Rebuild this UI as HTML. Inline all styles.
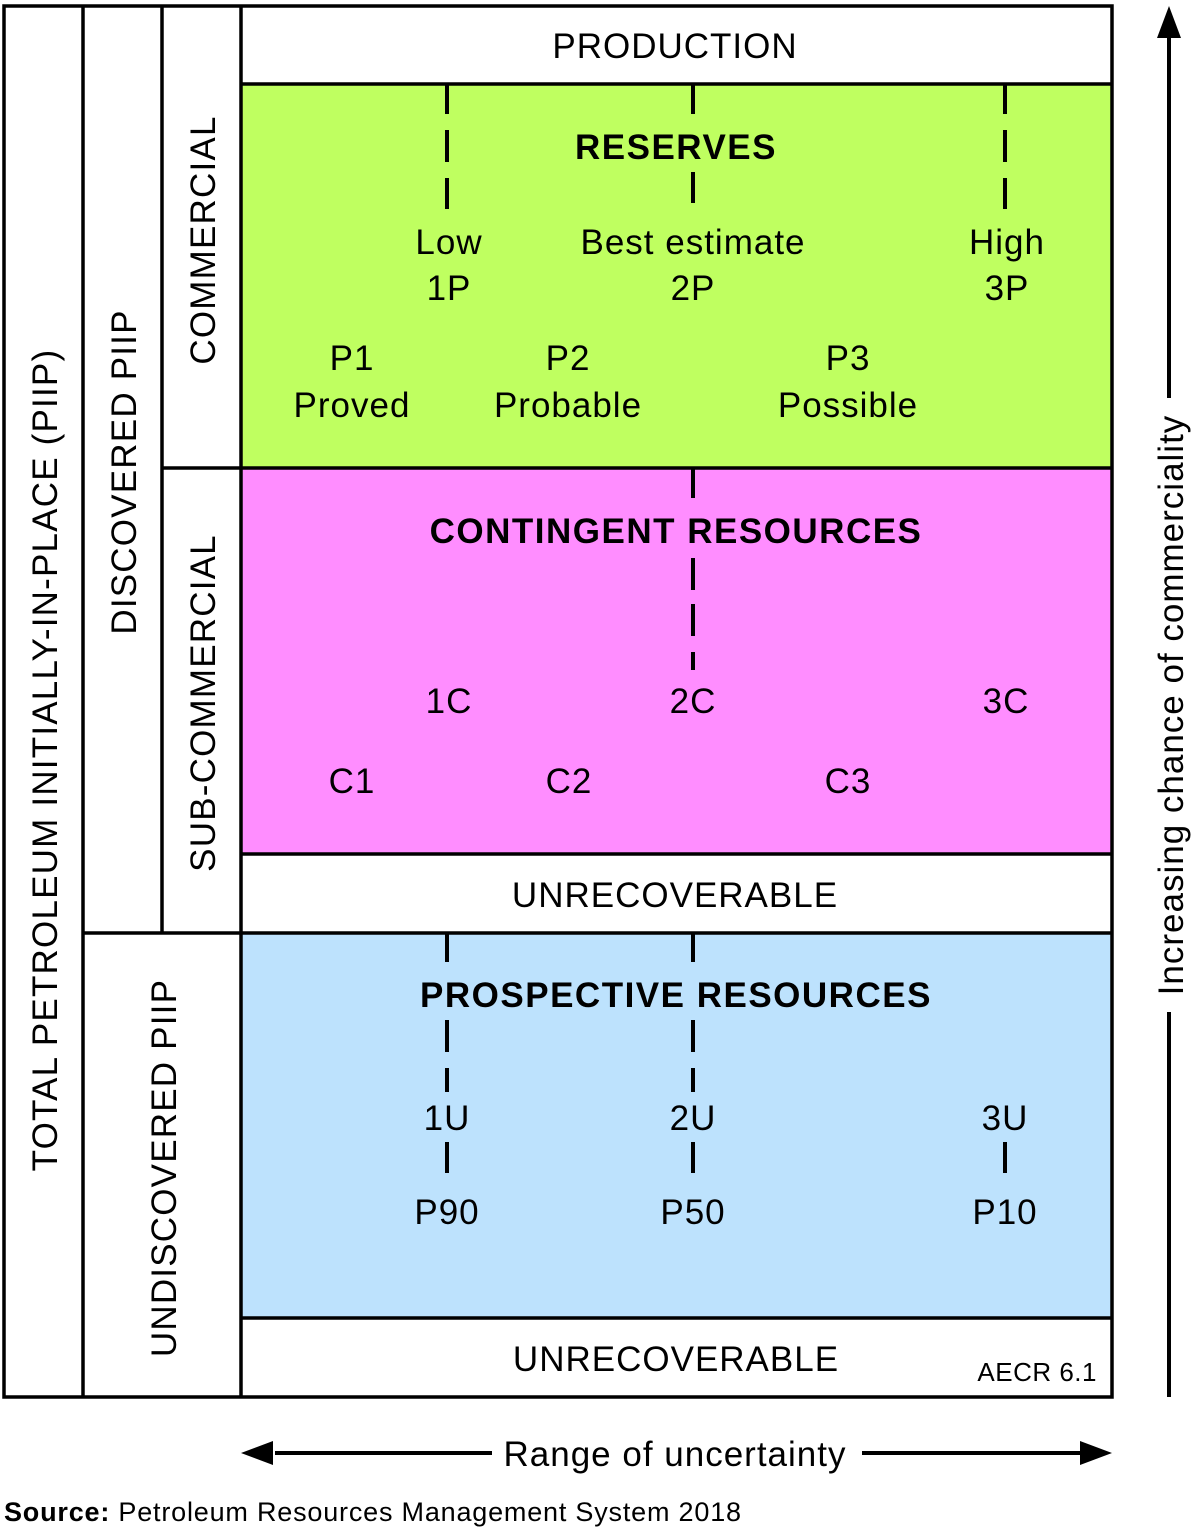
<!DOCTYPE html>
<html><head><meta charset="utf-8"><style>
html,body{margin:0;padding:0;background:#fff;}
svg text{font-family:"Liberation Sans",Arial,sans-serif;fill:#000;}
</style></head><body>
<svg width="1200" height="1529" viewBox="0 0 1200 1529" xmlns="http://www.w3.org/2000/svg">
<rect x="241" y="84" width="871" height="384" fill="#bfff60"/>
<rect x="241" y="468" width="871" height="386" fill="#ff8dff"/>
<rect x="241" y="933" width="871" height="385" fill="#bde2fd"/>
<g stroke="#000" stroke-width="3.5" fill="none">
<rect x="4" y="6" width="1108" height="1391"/>
<line x1="83" y1="6" x2="83" y2="1397"/>
<line x1="162" y1="6" x2="162" y2="933"/>
<line x1="241" y1="6" x2="241" y2="1397"/>
<line x1="241" y1="84" x2="1112" y2="84"/>
<line x1="162" y1="468" x2="1112" y2="468"/>
<line x1="241" y1="854" x2="1112" y2="854"/>
<line x1="83" y1="933" x2="1112" y2="933"/>
<line x1="241" y1="1318" x2="1112" y2="1318"/>
</g>
<g stroke="#000" stroke-width="4">
<path d="M447 84V114M447 130V162M447 178V209"/>
<path d="M693 84V114M693 172V203"/>
<path d="M1005 84V114M1005 130V162M1005 178V209"/>
<path d="M693 468V498M693 558V590M693 604V636M693 652V670"/>
<path d="M447 933V962M447 1020V1052M447 1068V1092M447 1142V1173"/>
<path d="M693 933V962M693 1020V1052M693 1068V1092M693 1142V1173"/>
<path d="M1005 1142V1173"/>
<path d="M1169 36V1397"/>
<path d="M275 1453H1080"/>
</g>
<rect x="1150" y="398" width="40" height="614" fill="#fff"/>
<rect x="492" y="1430" width="370" height="46" fill="#fff"/>
<polygon points="1169,6 1157,38 1181,38" fill="#000"/>
<polygon points="1112,1453 1080,1441 1080,1465" fill="#000"/>
<polygon points="241,1453 273,1441 273,1465" fill="#000"/>
<g font-size="35" text-anchor="middle" letter-spacing="1">
<text x="675" y="58">PRODUCTION</text>
<text x="676" y="159" font-weight="bold" letter-spacing="1.5">RESERVES</text>
<text x="449" y="254">Low</text><text x="449" y="300">1P</text>
<text x="693" y="254">Best estimate</text><text x="693" y="300">2P</text>
<text x="1007" y="254">High</text><text x="1007" y="300">3P</text>
<text x="352" y="370">P1</text><text x="352" y="417">Proved</text>
<text x="568" y="370">P2</text><text x="568" y="417">Probable</text>
<text x="848" y="370">P3</text><text x="848" y="417">Possible</text>
<text x="676" y="543" font-weight="bold" letter-spacing="1.5">CONTINGENT RESOURCES</text>
<text x="449" y="713">1C</text><text x="693" y="713">2C</text><text x="1006" y="713">3C</text>
<text x="352" y="793">C1</text><text x="569" y="793">C2</text><text x="848" y="793">C3</text>
<text x="675" y="907">UNRECOVERABLE</text>
<text x="676" y="1007" font-weight="bold" letter-spacing="1.5">PROSPECTIVE RESOURCES</text>
<text x="447" y="1130">1U</text><text x="693" y="1130">2U</text><text x="1005" y="1130">3U</text>
<text x="447" y="1224">P90</text><text x="693" y="1224">P50</text><text x="1005" y="1224">P10</text>
<text x="676" y="1371">UNRECOVERABLE</text>
<text x="675" y="1466">Range of uncertainty</text>
<text transform="translate(57,760) rotate(-90)" letter-spacing="1.2">TOTAL PETROLEUM INITIALLY-IN-PLACE (PIIP)</text>
<text transform="translate(136,472) rotate(-90)" letter-spacing="1.2">DISCOVERED PIIP</text>
<text transform="translate(176,1168) rotate(-90)" letter-spacing="1.2">UNDISCOVERED PIIP</text>
<text transform="translate(215,240) rotate(-90)" letter-spacing="1.2">COMMERCIAL</text>
<text transform="translate(215,703) rotate(-90)" letter-spacing="1.2">SUB-COMMERCIAL</text>
<text transform="translate(1183,705) rotate(-90)">Increasing chance of commerciality</text>
</g>
<text x="1097" y="1381" font-size="26" text-anchor="end" letter-spacing="0.5">AECR 6.1</text>
<text x="4" y="1521" font-size="27" letter-spacing="0.8"><tspan font-weight="bold">Source:</tspan> Petroleum Resources Management System 2018</text>
</svg>
</body></html>
